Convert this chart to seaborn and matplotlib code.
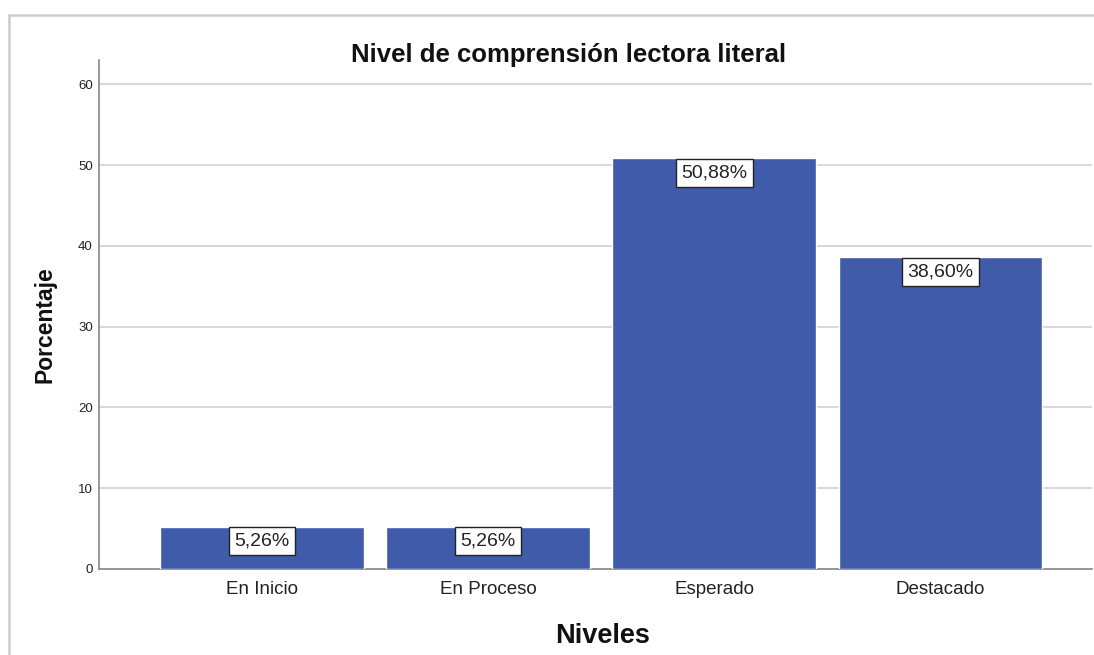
import pandas as pd
import matplotlib.pyplot as plt
import seaborn as sns
from matplotlib.lines import Line2D

# Datos del grafico
niveles = ['En Inicio', 'En Proceso', 'Esperado', 'Destacado']
porcentajes = [5.26, 5.26, 50.88, 38.60]
etiquetas = ['5,26%', '5,26%', '50,88%', '38,60%']
yticks = [0, 10, 20, 30, 40, 50, 60]

df = pd.DataFrame({'Niveles': niveles, 'Porcentaje': porcentajes})

sns.set_style('white')
plt.rcParams['font.family'] = ['Liberation Sans', 'DejaVu Sans']

fig = plt.figure(figsize=(10.94, 6.55), dpi=100)
ax = fig.add_axes([0.0905, 0.1313, 0.9075, 0.7767])

sns.barplot(data=df, x='Niveles', y='Porcentaje', color='#3F5BA9', saturation=1,
            width=0.9, ax=ax, zorder=3)

ax.set_ylim(0, 63)
ax.set_xlim(-0.72, 3.67)
ax.set_yticks(yticks)
ax.yaxis.grid(True, color='#D6D6D6', linewidth=1.3, zorder=0)
ax.set_axisbelow(True)
ax.tick_params(axis='y', labelsize=9.5, length=0, pad=4.5, colors='#222222')
ax.tick_params(axis='x', labelsize=13.5, length=0, pad=9, colors='#222222')

for s in ['top', 'right']:
    ax.spines[s].set_visible(False)
for s in ['left', 'bottom']:
    ax.spines[s].set_color('#888888')
    ax.spines[s].set_linewidth(1.2)

ax.set_xlabel('')
ax.set_ylabel('')

# Etiquetas de valor en cajas
for i, (v, t) in enumerate(zip(porcentajes, etiquetas)):
    ax.annotate(t, (i, v), xytext=(0, -4.5), textcoords='offset points',
                ha='center', va='top', fontsize=14, color='#222222', zorder=5,
                bbox=dict(boxstyle='square,pad=0.28', facecolor='white',
                          edgecolor='#222222', linewidth=1))

fig.text(0.52, 0.916, 'Nivel de comprensión lectora literal', ha='center', va='center',
         fontsize=18.5, fontweight='bold', color='#111111')
fig.text(0.551, 0.029, 'Niveles', ha='center', va='center',
         fontsize=19.5, fontweight='bold', color='#111111')
fig.text(0.041, 0.504, 'Porcentaje', ha='center', va='center', rotation=90,
         fontsize=16.5, fontweight='bold', color='#111111')

# Marco exterior
fig.add_artist(Line2D([9 / 1094, 9 / 1094], [0, 1 - 15 / 655], transform=fig.transFigure,
                      color='#CCCCCC', linewidth=1.8))
fig.add_artist(Line2D([9 / 1094, 1], [1 - 15 / 655, 1 - 15 / 655], transform=fig.transFigure,
                      color='#CCCCCC', linewidth=1.8))

plt.savefig('out.png', dpi=100)
